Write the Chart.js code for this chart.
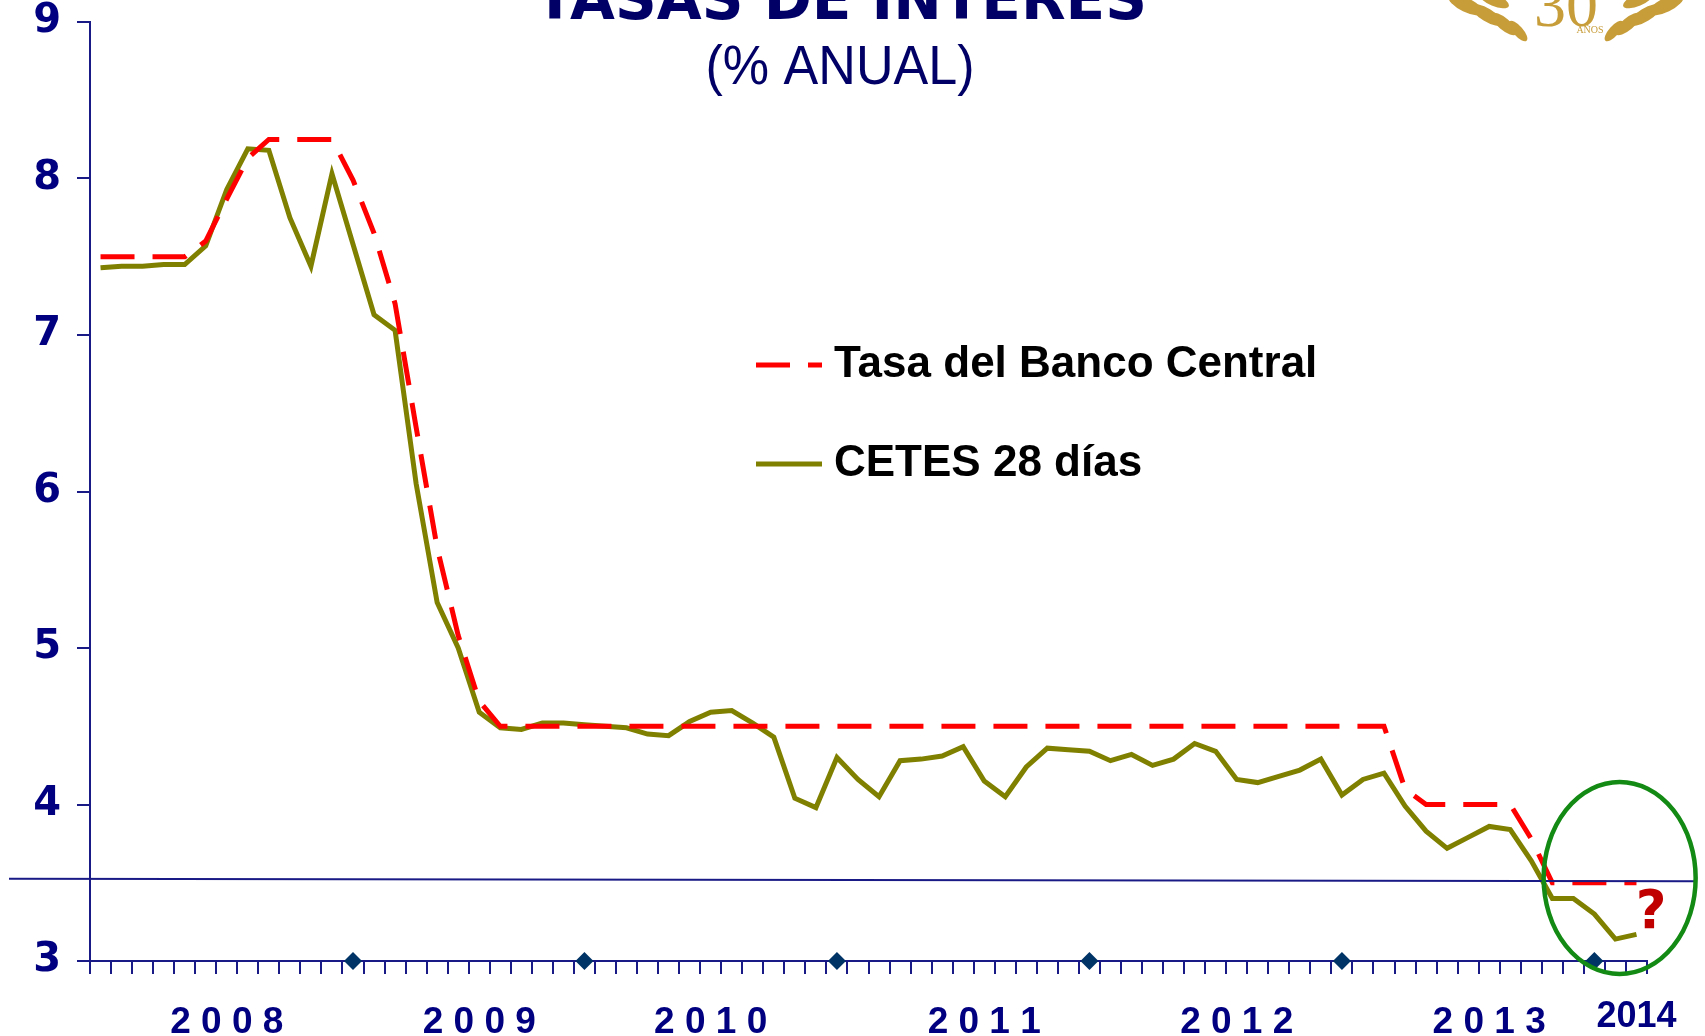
<!DOCTYPE html>
<html lang="es">
<head>
<meta charset="UTF-8">
<title>Tasas de interés (% anual)</title>
<script src="https://cdn.jsdelivr.net/npm/chart.js@4"></script>
<style>
  html, body { margin: 0; padding: 0; background: #fff; }
  #wrap { width: 1705px; height: 1036px; position: relative; }
</style>
</head>
<body>
<div id="wrap"><canvas id="chart"></canvas></div>
<script>
// meses: ene-2008 ... feb-2014
const monthNames = ['ene','feb','mar','abr','may','jun','jul','ago','sep','oct','nov','dic'];
const months = [];
for (let yr = 2008; yr <= 2014; yr++) {
    monthNames.forEach((m, k) => {
        if (yr === 2014 && k > 1) return;
        months.push(m + '-' + String(yr).slice(2));
    });
}

// Tasa objetivo del Banco Central (promedio mensual)
const tasaBanco = [
    7.50, 7.50, 7.50, 7.50, 7.50, 7.60, 7.87, 8.13, 8.25, 8.25, 8.25, 8.25,
    7.99, 7.65, 7.20, 6.41, 5.64, 5.08, 4.66, 4.50, 4.50, 4.50, 4.50, 4.50,
    4.50, 4.50, 4.50, 4.50, 4.50, 4.50, 4.50, 4.50, 4.50, 4.50, 4.50, 4.50,
    4.50, 4.50, 4.50, 4.50, 4.50, 4.50, 4.50, 4.50, 4.50, 4.50, 4.50, 4.50,
    4.50, 4.50, 4.50, 4.50, 4.50, 4.50, 4.50, 4.50, 4.50, 4.50, 4.50, 4.50,
    4.50, 4.50, 4.10, 4.00, 4.00, 4.00, 4.00, 4.00, 3.78, 3.50, 3.50, 3.50,
    3.50, 3.50
];

// CETES 28 días
const cetes28 = [
    7.43, 7.44, 7.44, 7.45, 7.45, 7.57, 7.93, 8.19, 8.18, 7.75, 7.44, 8.03,
    7.58, 7.13, 7.03, 6.05, 5.29, 5.00, 4.59, 4.49, 4.48, 4.52, 4.52, 4.51,
    4.50, 4.49, 4.45, 4.44, 4.53, 4.59, 4.60, 4.52, 4.43, 4.04, 3.98, 4.30,
    4.16, 4.05, 4.28, 4.29, 4.31, 4.37, 4.15, 4.05, 4.24, 4.36, 4.35, 4.34,
    4.28, 4.32, 4.25, 4.29, 4.39, 4.34, 4.16, 4.14, 4.18, 4.22, 4.29, 4.06,
    4.16, 4.20, 3.99, 3.83, 3.72, 3.79, 3.86, 3.84, 3.64, 3.40, 3.40, 3.30,
    3.14, 3.17
];

// rombos sobre el eje (cambio de año)
const markerIdx = [12, 23, 35, 47, 59, 71];
const markerValue = 3;

// etiquetas de año en el eje x
const yearLabels = ['2008', '2009', '2010', '2011', '2012', '2013', '2014'];
const yearLabelAt = [6, 18, 29, 42, 54, 66, 73];

const axisColor = '#1a1a86';
const labelColor = '#000080';

const markers = months.map((m, i) => markerIdx.includes(i) ? markerValue : null);

// título, logo, leyenda y anotaciones
const decor = {
    id: 'decor',
    afterDraw(chart) {
        const c = chart.ctx;
        const xs = chart.scales.x, ys = chart.scales.y;
        c.save();

        // titulo (cortado arriba, como en la lamina)
        c.fillStyle = '#000066';
        c.textAlign = 'center';
        c.textBaseline = 'alphabetic';
        c.font = 'bold 58px "DejaVu Sans"';
        c.fillText('TASAS DE INTERES', 841, 19);
        c.save();
        c.translate(840, 84);
        c.scale(0.93, 1);
        c.font = '56px "Liberation Sans"';
        c.fillText('(% ANUAL)', 0, 0);
        c.restore();

        // logo 30 años
        c.fillStyle = '#c79d3a';
        const leaves = [
            [1466, 5, 19, 7, 0.45], [1487, 15, 18, 6.5, 0.55], [1504, 24, 16, 6, 0.7],
            [1518, 31, 13, 5, 0.85], [1494, 0, 16, 6, 0.4]
        ];
        leaves.forEach(l => {
            c.beginPath();
            c.ellipse(l[0], l[1], l[2], l[3], l[4], 0, Math.PI * 2);
            c.fill();
            c.beginPath();
            c.ellipse(3132 - l[0], l[1], l[2], l[3], -l[4], 0, Math.PI * 2);
            c.fill();
        });
        c.font = '64px "Liberation Serif"';
        c.fillText('30', 1566, 26);
        c.font = '10px "Liberation Serif"';
        c.fillText('AÑOS', 1590, 33);

        // leyenda
        chart.data.datasets.slice(0, 2).forEach((ds, k) => {
            const ly = [365, 464][k];
            c.beginPath();
            c.setLineDash(ds.borderDash || []);
            c.strokeStyle = ds.borderColor;
            c.lineWidth = 5;
            c.moveTo(756, ly);
            c.lineTo(822, ly);
            c.stroke();
            c.setLineDash([]);
            c.fillStyle = '#000';
            c.font = 'bold 44px "Liberation Sans"';
            c.textAlign = 'left';
            c.textBaseline = 'middle';
            c.fillText(ds.label, 834, ly);
        });

        // linea horizontal de referencia
        c.beginPath();
        c.strokeStyle = axisColor;
        c.lineWidth = 2;
        c.moveTo(9, ys.getPixelForValue(3.525));
        c.lineTo(1696, ys.getPixelForValue(3.51));
        c.stroke();

        // circulo verde y signo de interrogacion
        c.beginPath();
        c.ellipse(xs.getPixelForValue(72.2), ys.getPixelForValue(3.53), 76, 96, 0, 0, Math.PI * 2);
        c.strokeStyle = '#138a13';
        c.lineWidth = 4.5;
        c.stroke();

        c.fillStyle = '#c00000';
        c.font = 'bold 53px "DejaVu Sans"';
        c.textAlign = 'center';
        c.textBaseline = 'alphabetic';
        c.fillText('?', xs.getPixelForValue(73.7), ys.getPixelForValue(3.21));

        c.restore();
    }
};

new Chart(document.getElementById('chart').getContext('2d'), {
    type: 'line',
    data: {
        labels: months,
        datasets: [
            {
                label: 'Tasa del Banco Central',
                data: tasaBanco,
                borderColor: '#ff0000',
                borderWidth: 5,
                borderDash: [34, 18],
                pointRadius: 0,
                tension: 0
            },
            {
                label: 'CETES 28 días',
                data: cetes28,
                borderColor: '#808000',
                borderWidth: 5,
                pointRadius: 0,
                tension: 0
            },
            {
                label: 'cambio de año',
                data: markers,
                showLine: false,
                pointStyle: 'rectRot',
                pointRadius: 9,
                pointBackgroundColor: '#003366',
                pointBorderColor: '#003366',
                pointBorderWidth: 0,
                clip: false
            }
        ]
    },
    options: {
        responsive: true,
        maintainAspectRatio: false,
        animation: false,
        layout: { padding: { right: 58 } },
        plugins: {
            legend: { display: false },
            tooltip: { enabled: false }
        },
        scales: {
            x: {
                offset: true,
                grid: {
                    offset: true,
                    drawOnChartArea: false,
                    tickLength: 13,
                    color: axisColor,
                    lineWidth: 2
                },
                border: { color: axisColor, width: 2 },
                ticks: {
                    autoSkip: false,
                    maxRotation: 0,
                    padding: 27,
                    color: labelColor,
                    font: (ctx) => ctx.index === 73
                        ? { family: '"Liberation Sans"', size: 36, weight: 'bold', lineHeight: 0.9 }
                        : { family: '"Liberation Sans"', size: 37, weight: 'bold' },
                    callback: function (value, index) {
                        const k = yearLabelAt.indexOf(index);
                        if (k < 0) return '';
                        return index === 73 ? yearLabels[k] : yearLabels[k].split('').join(' ');
                    }
                },
                afterFit: (s) => { s.height = 75; }
            },
            y: {
                min: 3,
                max: 9,
                grid: {
                    drawOnChartArea: false,
                    tickLength: 13,
                    color: axisColor,
                    lineWidth: 2
                },
                border: { color: axisColor, width: 2 },
                ticks: {
                    stepSize: 1,
                    padding: 16,
                    color: labelColor,
                    font: { family: '"DejaVu Sans"', size: 40, weight: 'bold' }
                },
                afterFit: (s) => {
                    s.width = 90;
                    s.paddingTop = 22;
                    s.paddingBottom = 22;
                }
            }
        }
    },
    plugins: [decor]
});
</script>
</body>
</html>
